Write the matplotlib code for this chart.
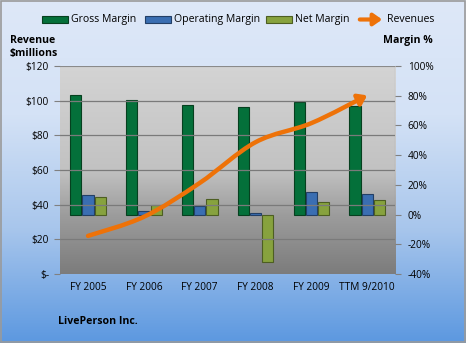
import numpy as np
import matplotlib
matplotlib.use("Agg")
import matplotlib.pyplot as plt
from matplotlib.colors import LinearSegmentedColormap
from matplotlib.patches import Rectangle, FancyArrowPatch
from matplotlib.path import Path

plt.rcParams['font.family'] = ['Open Sans', 'DejaVu Sans']

years = ["FY 2005", "FY 2006", "FY 2007", "FY 2008", "FY 2009", "TTM 9/2010"]
gross = [80.5, 77, 74, 72, 75.5, 73]
operating = [13, 2.5, 6, 1, 15, 14]
net = [11.5, 6.5, 10.5, -32, 8.5, 9.5]
revenues = [22, 33, 52.5, 76, 87, 103]

rev_ticks = [0, 20, 40, 60, 80, 100, 120]
rev_labels = ["$-", "$20", "$40", "$60", "$80", "$100", "$120"]
pct_ticks = [-40, -20, 0, 20, 40, 60, 80, 100]
pct_labels = ["-40%", "-20%", "0%", "20%", "40%", "60%", "80%", "100%"]

c_gross = "#04703a"
c_op = "#3a6eb2"
c_net = "#87a23e"
c_rev = "#ee7208"

fig = plt.figure(figsize=(4.66, 3.43), dpi=100)

# figure background gradient (row 0 = top)
bg = fig.add_axes([0, 0, 1, 1], zorder=-10)
bg_cmap = LinearSegmentedColormap.from_list("bg", ["#dee8f8", "#d4e2f6", "#a8c6ec", "#5c98e0"])
bg.imshow(np.linspace(0, 1, 256).reshape(-1, 1), cmap=bg_cmap, aspect="auto",
          extent=[0, 1, 0, 1], origin="upper")
bg.add_patch(Rectangle((0.002, 0.003), 0.995, 0.994, fill=False, ec="#9a9a9a", lw=1.2))
bg.set_xlim(0, 1)
bg.set_ylim(0, 1)
bg.axis("off")

ax = fig.add_axes([0.129, 0.201, 0.719, 0.607])
x = np.arange(len(years))

# plot area gradient
pa_cmap = LinearSegmentedColormap.from_list("pa", [(0, "#d4d4d4"), (0.5, "#c2c2c2"), (0.72, "#9c9c9c"), (1, "#7c7c7c")])
ax.imshow(np.linspace(0, 1, 256).reshape(-1, 1), cmap=pa_cmap, aspect="auto",
          extent=[-0.5, 5.5, -40, 100], origin="upper", zorder=0)

w = 0.2
ax.bar(x - 0.22, gross, w, color=c_gross, edgecolor="#06401f", lw=0.8, zorder=3)
ax.bar(x, operating, w, color=c_op, edgecolor="#233f66", lw=0.8, zorder=3)
ax.bar(x + 0.22, net, w, color=c_net, edgecolor="#4d5e22", lw=0.8, zorder=3)
ax.set_xlim(-0.5, 5.5)
ax.set_ylim(-40, 100)
ax.set_xticks(x)
ax.set_xticklabels(years)
ax.tick_params(axis="x", length=0, pad=6, labelsize=7.3)
for s in ax.spines.values():
    s.set_visible(False)

ax2 = ax.twinx()
ax2.set_ylim(0, 120)
ax2.set_yticks(rev_ticks)
ax2.set_yticklabels(rev_labels)
ax2.yaxis.tick_left()
ax2.tick_params(axis="y", length=4, color="#808080", labelsize=7.3, pad=4)
for s in ax2.spines.values():
    s.set_visible(False)

ax.yaxis.tick_right()
ax.set_yticks(pct_ticks)
ax.set_yticklabels(pct_labels)
ax.tick_params(axis="y", length=4, color="#808080", labelsize=7.3, pad=5)

for t in rev_ticks[1:-1]:
    ax2.axhline(t, color="#7a7a7a", lw=0.9, zorder=1)
ax2.axhline(120, color="#8a8a8a", lw=0.8)
ax2.axvline(5.5, color="#8a8a8a", lw=0.8)

# smooth revenue line (Catmull-Rom -> Bezier)
pts = np.column_stack([x, revenues]).astype(float)
verts = [tuple(pts[0])]
codes = [Path.MOVETO]
n = len(pts)
for i in range(n - 1):
    p0 = pts[i - 1] if i > 0 else pts[i]
    p1, p2 = pts[i], pts[i + 1]
    p3 = pts[i + 2] if i + 2 < n else pts[i + 1]
    verts += [tuple(p1 + (p2 - p0) / 6), tuple(p2 - (p3 - p1) / 6), tuple(p2)]
    codes += [Path.CURVE4] * 3
arrow = FancyArrowPatch(path=Path(verts, codes), arrowstyle="-|>,head_length=0.5,head_width=0.35",
                        mutation_scale=10, color=c_rev, lw=3.2, transform=ax2.transData,
                        capstyle="round", zorder=5)
ax2.add_patch(arrow)

# legend
ly = 1 - 19.5 / 343
items = [(42, c_gross, "#06401f", "Gross Margin"), (145, c_op, "#233f66", "Operating Margin"),
         (266, c_net, "#4d5e22", "Net Margin")]
for px, fc, ec, lab in items:
    fig.patches.append(Rectangle((px / 466, ly - 3 / 343), 26 / 466, 6 / 343, fc=fc, ec=ec, lw=0.8,
                                 transform=fig.transFigure, figure=fig))
    fig.text((px + 29) / 466, ly, lab, fontsize=7.6, va="center", ha="left")
fig.patches.append(FancyArrowPatch((357 / 466, ly), (385 / 466, ly), arrowstyle="-|>,head_length=0.5,head_width=0.35",
                                   mutation_scale=10, color=c_rev, lw=3, transform=fig.transFigure, figure=fig))
fig.text(387 / 466, ly, "Revenues", fontsize=7.6, va="center", ha="left")

fig.text(10 / 466, 1 - 47 / 343, "Revenue\n$millions", fontsize=7.6, fontweight="bold", ha="left", va="center",
         linespacing=1.3)
fig.text(383 / 466, 1 - 41 / 343, "Margin %", fontsize=7.6, fontweight="bold", ha="left", va="center")
fig.text(58 / 466, 1 - 322 / 343, "LivePerson Inc.", fontsize=7.6, fontweight="bold", ha="left", va="center")

fig.savefig("out.png", dpi=100)
